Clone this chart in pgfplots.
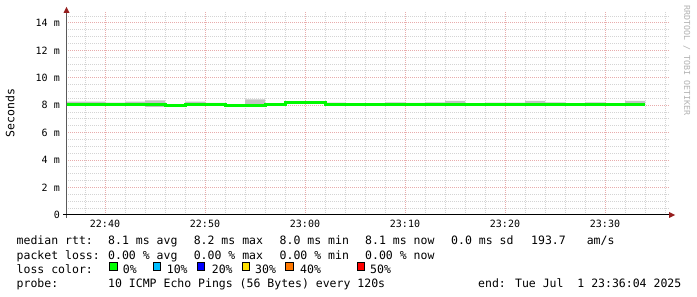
\documentclass[border=0pt]{standalone}
\usepackage{pgfplots}
\pgfplotsset{compat=1.18}
\usepackage{fontspec}
\setmainfont{DejaVu Sans Mono}
\setmonofont{DejaVu Sans Mono}
\definecolor{majgrid}{RGB}{232,172,172}
\definecolor{mingrid}{RGB}{212,212,212}
\definecolor{smoke}{RGB}{195,195,195}
\definecolor{med}{RGB}{0,250,0}
\definecolor{arrowred}{RGB}{150,30,30}
\definecolor{axgray}{RGB}{90,90,90}
\definecolor{c0}{RGB}{0,255,0}
\definecolor{c10}{RGB}{0,190,255}
\definecolor{c20}{RGB}{0,0,255}
\definecolor{c30}{RGB}{255,225,0}
\definecolor{c40}{RGB}{255,120,0}
\definecolor{c50}{RGB}{255,0,0}
\newcommand{\legfont}{\fontsize{11.5bp}{13bp}\selectfont}
\begin{document}
\begin{tikzpicture}
\useasboundingbox (0,0) rectangle (697bp,297bp);
\fill[white] (0,0) rectangle (697bp,297bp);
\begin{axis}[
  at={(66bp,82bp)}, anchor=south west,
  scale only axis, width=603bp, height=202.97bp,
  xmin=36.1, xmax=96.4, ymin=0, ymax=14.8,
  axis lines=left,
  axis line style={draw=none},
  xtick={40,50,60,70,80,90},
  xticklabels={22:40,22:50,23:00,23:10,23:20,23:30},
  minor xtick={38,40,...,96},
  ytick={0,2,...,14},
  yticklabels={0,2 m,4 m,6 m,8 m,10 m,12 m,14 m},
  minor ytick={0.5,1,...,14.5},
  grid=both,
  major grid style={majgrid, line width=1bp, dash pattern=on 1bp off 1bp},
  minor grid style={mingrid, line width=1bp, dash pattern=on 1bp off 1bp},
  major tick length=0pt, minor tick length=0pt,
  tick label style={font=\fontsize{10bp}{12bp}\selectfont, text=black},
  yticklabel style={anchor=east, inner sep=0pt, xshift=-6bp},
  xticklabel style={anchor=base, inner sep=0pt, yshift=-12.5bp},
]
% smoke: lower bound, then spread stacked on it
\addplot[draw=none, const plot, stack plots=y, forget plot] coordinates {
(36,8.00) (38,8.00) (40,8.00) (42,8.00) (44,7.88) (46,7.92) (48,8.00) (50,8.02)
(52,7.92) (54,7.88) (56,8.00) (58,8.12) (60,8.12) (62,8.00) (64,8.02) (66,8.02)
(68,8.02) (70,8.02) (72,8.02) (74,8.02) (76,8.02) (78,8.00) (80,8.00) (82,8.02)
(84,8.02) (86,8.02) (88,8.02) (90,8.00) (92,8.02) (94,8.02)};
\addplot[draw=none, fill=smoke, const plot, stack plots=y] coordinates {
(36,0.27) (38,0.27) (40,0.19) (42,0.27) (44,0.48) (46,0.11) (48,0.27) (50,0.15)
(52,0.14) (54,0.55) (56,0.10) (58,0.10) (60,0.10) (62,0.20) (64,0.10) (66,0.10)
(68,0.20) (70,0.15) (72,0.20) (74,0.30) (76,0.13) (78,0.20) (80,0.20) (82,0.30)
(84,0.20) (86,0.10) (88,0.20) (90,0.14) (92,0.30) (94,0.30)} \closedcycle;
\addplot[med, line width=3bp, const plot, stack plots=false] coordinates {
(36,8.08) (38,8.08) (40,8.07) (42,8.08) (44,8.08) (46,7.97) (48,8.08) (50,8.08)
(52,7.97) (54,7.97) (56,8.06) (58,8.17) (60,8.17) (62,8.06) (64,8.08) (66,8.08)
(68,8.08) (70,8.07) (72,8.08) (74,8.08) (76,8.08) (78,8.05) (80,8.05) (82,8.08)
(84,8.08) (86,8.08) (88,8.08) (90,8.07) (92,8.08) (94,8.08)};
\end{axis}
% axis lines
\draw[axgray, line width=1bp] (66.5bp,79bp) -- (66.5bp,284bp);
\fill[arrowred] (63.5bp,284bp) -- (69.5bp,284bp) -- (66.5bp,290bp) -- cycle;
\draw[black, line width=1bp] (63bp,82bp) -- (669bp,82bp);
\fill[arrowred] (669bp,79bp) -- (669bp,85bp) -- (675bp,82bp) -- cycle;
% labels
\node[rotate=90, font=\legfont, inner sep=0pt] at (10bp,184bp) {Seconds};
\node[rotate=-90, anchor=base west, inner sep=0pt, text=gray!60, font=\fontsize{8.3bp}{9bp}\selectfont] at (684bp,292bp) {RRDTOOL / TOBI OETIKER};
% legend
\begin{scope}[every node/.style={anchor=base west, inner sep=0pt, font=\legfont}]
\node at (16.5bp,52bp) {median rtt:};
\node at (108bp,52bp) {8.1 ms avg};
\node at (193.6bp,52bp) {8.2 ms max};
\node at (279.5bp,52bp) {8.0 ms min};
\node at (365bp,52bp) {8.1 ms now};
\node at (451bp,52bp) {0.0 ms sd};
\node at (531bp,52bp) {193.7};
\node at (586.6bp,52bp) {am/s};
\node at (16.5bp,38bp) {packet loss:};
\node at (108bp,38bp) {0.00 \% avg};
\node at (193.6bp,38bp) {0.00 \% max};
\node at (279.5bp,38bp) {0.00 \% min};
\node at (365bp,38bp) {0.00 \% now};
\node at (16.5bp,24bp) {loss color:};
\node at (122.7bp,24bp) {0\%};
\node at (166.7bp,24bp) {10\%};
\node at (211.7bp,24bp) {20\%};
\node at (255bp,24bp) {30\%};
\node at (300bp,24bp) {40\%};
\node at (370bp,24bp) {50\%};
\node at (16.5bp,10bp) {probe:};
\node at (108bp,10bp) {10 ICMP Echo Pings (56 Bytes) every 120s};
\node at (478bp,10bp) {end: Tue Jul~~1 23:36:04 2025};
\end{scope}
\foreach \xx/\cc in {109.5/c0,153/c10,197/c20,242/c30,285.5/c40,357/c50}{
  \filldraw[fill=\cc, draw=black, line width=1bp] (\xx bp,26.5bp) rectangle ++(7.5bp,7.5bp);
}
\end{tikzpicture}
\end{document}
